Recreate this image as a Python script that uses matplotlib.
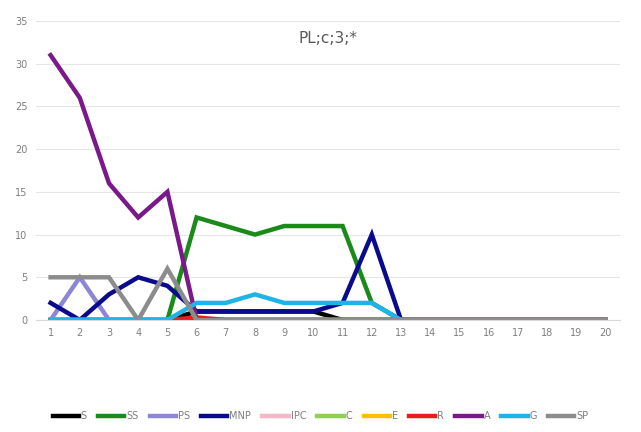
import matplotlib
matplotlib.use("Agg")
import matplotlib.pyplot as plt

x = list(range(1, 21))
names = ["S", "SS", "PS", "MNP", "IPC", "C", "E", "R", "A", "G", "SP"]
colors = ["#000000", "#1a8a1a", "#8b86d6", "#0a0a8c", "#f4b8c8", "#8fd14f",
          "#ffc000", "#e81c1c", "#7a1a8a", "#1fb4e8", "#8c8c8c"]
S   = [0, 0, 0, 0, 0, 1, 1, 1, 1, 1, 0, 0, 0, 0, 0, 0, 0, 0, 0, 0]
SS  = [0, 0, 0, 0, 0, 12, 11, 10, 11, 11, 11, 2, 0, 0, 0, 0, 0, 0, 0, 0]
PS  = [0, 5, 0, 0, 0, 0, 0, 0, 0, 0, 0, 0, 0, 0, 0, 0, 0, 0, 0, 0]
MNP = [2, 0, 3, 5, 4, 1, 1, 1, 1, 1, 2, 10, 0, 0, 0, 0, 0, 0, 0, 0]
IPC = [0] * 20
C   = [0] * 20
E   = [0] * 20
R   = [0, 0, 0, 0, 0, 0.3, 0, 0, 0, 0, 0, 0, 0, 0, 0, 0, 0, 0, 0, 0]
A   = [31, 26, 16, 12, 15, 0, 0, 0, 0, 0, 0, 0, 0, 0, 0, 0, 0, 0, 0, 0]
G   = [0, 0, 0, 0, 0, 2, 2, 3, 2, 2, 2, 2, 0, 0, 0, 0, 0, 0, 0, 0]
SP  = [5, 5, 5, 0, 6, 0, 0, 0, 0, 0, 0, 0, 0, 0, 0, 0, 0, 0, 0, 0]
series = [S, SS, PS, MNP, IPC, C, E, R, A, G, SP]
yticks = [0, 5, 10, 15, 20, 25, 30, 35]
title = "PL;c;3;*"

fig = plt.figure(figsize=(6.41, 4.32), dpi=100)
ax = fig.add_axes([36 / 641, 1 - 320 / 432, (620 - 36) / 641, (320 - 21) / 432])
for vals, name, col in zip(series, names, colors):
    ax.plot(x, vals, color=col, lw=3.2, label=name, solid_joinstyle="miter")

ax.set_xlim(0.5, 20.5)
ax.set_ylim(0, 35)
ax.set_yticks(yticks)
ax.set_xticks(x)
ax.grid(axis="y", color="#e6e6e6", lw=0.8)
ax.set_axisbelow(True)
for s in ["top", "right", "left"]:
    ax.spines[s].set_visible(False)
ax.spines["bottom"].set_color("#d9d9d9")
ax.tick_params(length=0, labelsize=7, colors="#7f7f7f", pad=6)
ax.text(0.5, 0.94, title, transform=ax.transAxes, ha="center", va="center",
        fontsize=11, color="#595959")
fig.legend(loc="center", bbox_to_anchor=(0.5, 1 - 416 / 432), ncol=11,
           frameon=False, fontsize=7, handlelength=2.7, handletextpad=0.2,
           columnspacing=1.15, labelcolor="#7f7f7f")
fig.savefig("out.png", dpi=100)
